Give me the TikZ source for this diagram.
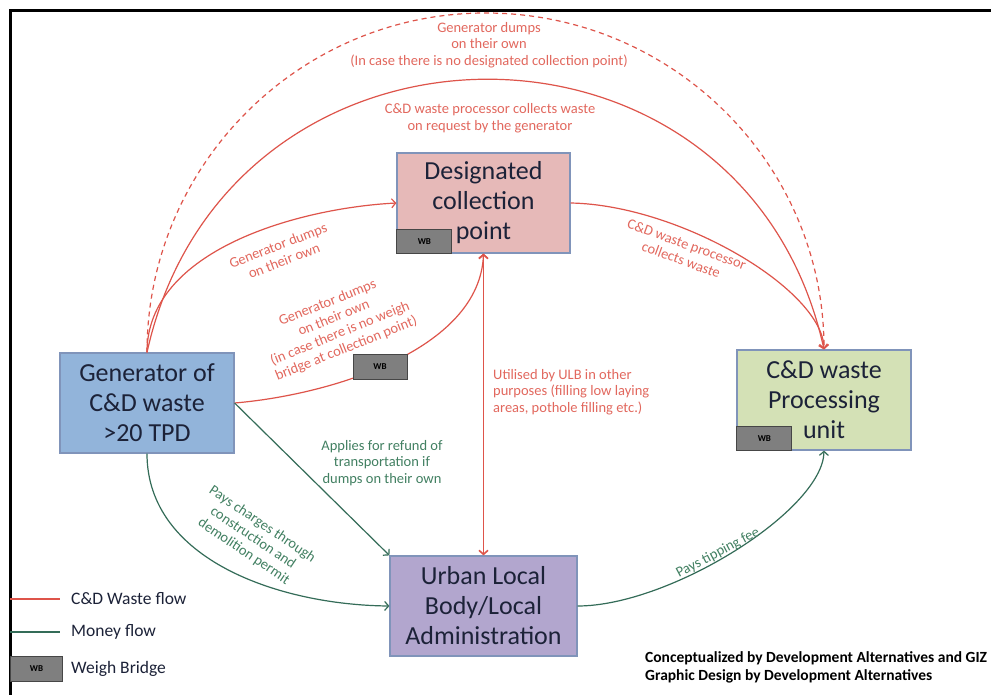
\documentclass[tikz,border=0pt]{standalone}
\usepackage{fontspec}
\setmainfont{Carlito}
\usetikzlibrary{arrows.meta}

\definecolor{wred}{RGB}{222,84,74}
\definecolor{wredtext}{RGB}{226,104,94}
\definecolor{mgreen}{RGB}{52,108,88}
\definecolor{mgreentext}{RGB}{66,128,98}
\definecolor{bordc}{RGB}{128,148,186}
\definecolor{dcpfill}{RGB}{230,185,184}
\definecolor{genfill}{RGB}{146,180,218}
\definecolor{procfill}{RGB}{212,225,182}
\definecolor{ulbfill}{RGB}{178,166,206}
\definecolor{wbfill}{RGB}{127,127,127}
\definecolor{wbdraw}{RGB}{70,70,70}
\definecolor{boxtext}{RGB}{28,34,56}

\tikzset{
  >={Straight Barb[length=4pt,width=9pt]},
  box/.style={draw=bordc, line width=1.2pt, minimum width=174pt, minimum height=100pt,
    inner sep=0pt, align=center, text=boxtext, font=\fontsize{26}{30}\selectfont},
  wbbox/.style={draw=wbdraw, fill=wbfill, line width=1pt, minimum width=55pt,
    minimum height=24pt, inner sep=0pt, font=\bfseries\fontsize{9}{10}\selectfont},
  waste/.style={draw=wred, line width=1.2pt, ->},
  money/.style={draw=mgreen, line width=1.2pt, ->},
  wlabel/.style={text=wredtext, font=\fontsize{14.5}{16.5}\selectfont, align=center, inner sep=0pt},
  mlabel/.style={text=mgreentext, font=\fontsize{14.5}{16.5}\selectfont, align=center, inner sep=0pt},
  legtext/.style={anchor=west, inner sep=0pt, font=\fontsize{17.5}{20}\selectfont, text=boxtext},
}

\begin{document}
\begin{tikzpicture}[x=1pt,y=-1pt]
\useasboundingbox (0,0) rectangle (991,695);
\fill[white] (0,0) rectangle (991,695);

% outer frame
\draw[line width=3pt] (10,700) -- (10,11) -- (995,11);

% main boxes
\node[box, fill=genfill] (gen) at (147,403) {Generator of\\C\&D waste\\>20 TPD};
\node[box, fill=dcpfill, minimum width=173pt] (dcp) at (483.5,203) {Designated\\collection\\point};
\node[box, fill=procfill] (proc) at (824,400) {C\&D waste\\Processing\\unit};
\node[box, fill=ulbfill, minimum width=187pt] (ulb) at (483.5,606) {Urban Local\\Body/Local\\Administration};

% weigh bridges inside boxes
\node[wbbox, anchor=south west] (wbdcp) at (dcp.south west) {WB};
\node[wbbox, anchor=south west] (wbproc) at (proc.south west) {WB};

% waste flows
\coordinate (dtop) at (485.5,13);
\draw[waste, dash pattern=on 5pt off 4pt] (gen.north) .. controls +(0,-187) and (299,13) .. (dtop)
  .. controls (672,13) and +(0,-186) .. (proc.north);
\draw[waste] (gen.north) .. controls +(80,-362) and +(-80,-362) .. (proc.north);
\draw[waste] (gen.north) .. controls +(0,-103) and (300,208) .. (dcp.west);
\draw[waste] (gen.east) .. controls (330,395) and (480,350) .. (dcp.south);
\draw[waste] (dcp.east) .. controls (680,205) and (823,290) .. (proc.north);
\draw[draw=wred, line width=1.6pt, <->] (dcp.south) -- (ulb.north);

% weigh bridge on the direct route
\node[wbbox, minimum width=54pt, minimum height=25pt] (wbmid) at (380,366.5) {WB};

% money flows
\draw[money] (gen.east) -- (ulb.north west);
\draw[money] (gen.south) .. controls (147,560) and (280,605) .. (ulb.west);
\draw[money] (ulb.east) .. controls (670,606) and (823,510) .. (proc.south);

% flow labels
\node[wlabel] (l1) at (489,45) {Generator dumps\\on their own\\(In case there is no designated collection point)};
\node[wlabel] (l2) at (490,118) {C\&D waste processor collects waste\\on request by the generator};
\node[wlabel, rotate=21] (l3) at (281,253) {Generator dumps\\on their own};
\node[wlabel, rotate=22] (l4) at (337,326) {Generator dumps\\on their own\\(in case there is no weigh\\bridge at collection point)};
\node[wlabel, rotate=-20] (l5) at (684,252) {C\&D waste processor\\collects waste};
\node[wlabel, align=left, anchor=west] (l6) at (493,392) {Utilised by ULB in other\\purposes (filling low laying\\areas, pothole filling etc.)};
\node[mlabel] (l7) at (382,463) {Applies for refund of\\transportation if\\dumps on their own};
\node[mlabel, rotate=-34] (l8) at (253,538) {Pays charges through\\construction and\\demolition permit};
\node[mlabel, rotate=28] (l9) at (718,553) {Pays tipping fee};

% legend
\coordinate (lr0) at (10,599);
\coordinate (lr1) at (60,599);
\coordinate (lg0) at (10,632);
\coordinate (lg1) at (60,632);
\draw[draw=wred, line width=1.2pt] (lr0) -- (lr1);
\draw[draw=mgreen, line width=1.2pt] (lg0) -- (lg1);
\node[legtext] (legw) at (71,599) {C\&D Waste flow};
\node[legtext] (legm) at (71,632) {Money flow};
\node[wbbox, minimum width=52pt, minimum height=25pt, anchor=west] (legwb) at (10,668.5) {WB};
\node[legtext] (legb) at (71,668.5) {Weigh Bridge};

% credits
\node[anchor=west, inner sep=0pt, align=left, font=\bfseries\fontsize{15.5}{18.5}\selectfont] (cred) at (645,667.5)
  {Conceptualized by Development Alternatives and GIZ\\Graphic Design by Development Alternatives};
\end{tikzpicture}
\end{document}
